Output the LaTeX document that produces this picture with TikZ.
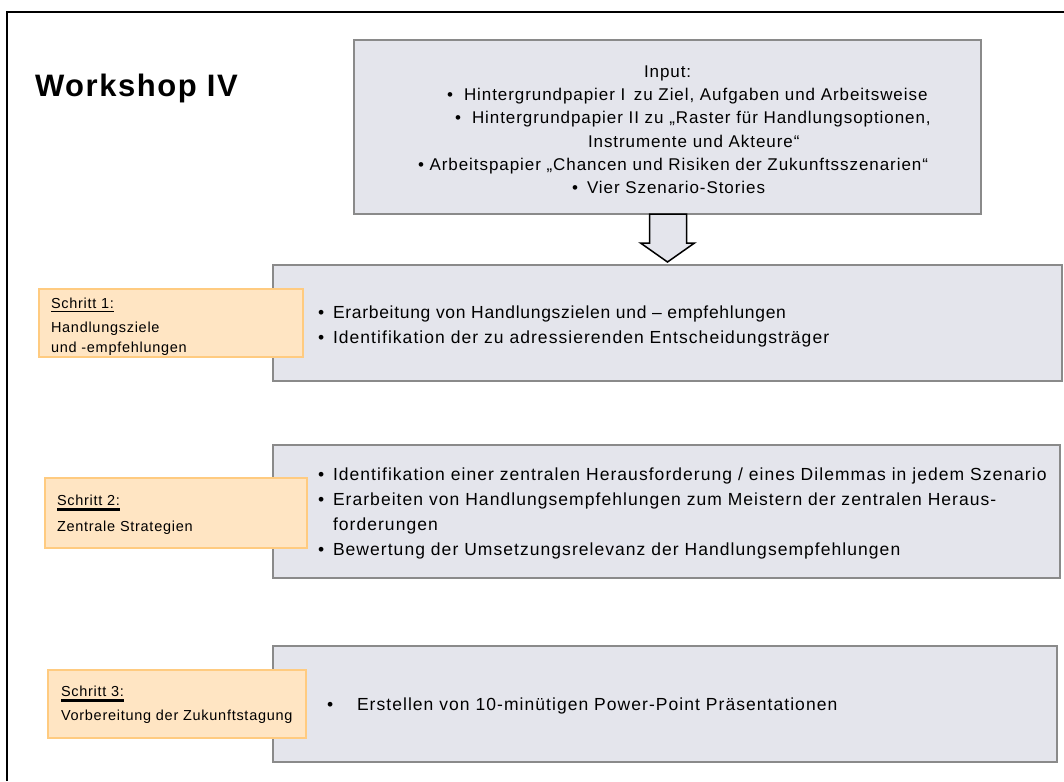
\documentclass[tikz,border=0pt]{standalone}
\usepackage{fontspec}
\setmainfont{Liberation Sans}[LetterSpace=5]
\usetikzlibrary{calc}

\definecolor{panelfill}{HTML}{E4E5EC}
\definecolor{panelline}{HTML}{8A8A8A}
\definecolor{stepfill}{HTML}{FFE5C3}
\definecolor{stepline}{HTML}{FFCB80}

\tikzset{
  panel/.style={draw=panelline, fill=panelfill, line width=2pt, inner sep=0pt, outer sep=0pt, anchor=north west},
  stepbox/.style={draw=stepline, fill=stepfill, line width=1.6pt, inner sep=0pt, outer sep=0pt, anchor=north west},
  intxt/.style={anchor=base west, inner sep=0pt, outer sep=0pt, font=\fontsize{17}{20}\selectfont\addfontfeature{LetterSpace=5.5}},
  txt/.style={anchor=base west, inner sep=0pt, outer sep=0pt, font=\fontsize{17.5}{20}\selectfont\addfontfeature{LetterSpace=6}},
  small/.style={anchor=base west, inner sep=0pt, outer sep=0pt, font=\fontsize{14.5}{17}\selectfont},
  title/.style={anchor=base west, inner sep=0pt, outer sep=0pt, font=\fontsize{31}{36}\selectfont\bfseries},
}

\begin{document}
\begin{tikzpicture}[x=1pt, y=-1pt]
\useasboundingbox (0,0) rectangle (1064,781);

% frame of the slide
\coordinate (fbl) at (7,781);
\coordinate (ftl) at (7,12);
\coordinate (ftr) at (1064,12);
\draw[line width=1.5pt] (fbl) -- (ftl) -- (ftr);

\node[title] (ws) at (35,97) {Workshop IV};

% input panel
\node[panel, minimum width=627, minimum height=174] (inp) at (354,40) {};
\node[intxt] (in0) at (644,78) {Input:};
\node[intxt] (in1b) at (447,101) {•};
\node[intxt] (in1) at (464,101) {Hintergrundpapier I\hspace{0.5em}zu Ziel, Aufgaben und Arbeitsweise};
\node[intxt] (in2b) at (455,124) {•};
\node[intxt] (in2) at (472,124) {Hintergrundpapier II zu „Raster für Handlungsoptionen,};
\node[intxt] (in3) at (588,147) {Instrumente und Akteure“};
\node[intxt] (in4) at (418,170) {• Arbeitspapier „Chancen und Risiken der Zukunftsszenarien“};
\node[intxt] (in5b) at (572,193) {•};
\node[intxt] (in5) at (587,193) {Vier Szenario-Stories};

% step panels
\node[panel, minimum width=789, minimum height=116] (p1) at (273,265) {};
\node[panel, minimum width=787, minimum height=133] (p2) at (273,445) {};
\node[panel, minimum width=784, minimum height=116] (p3) at (273,646) {};

% block arrow from the input panel down to the first step
\coordinate (a0) at ($(inp.south)+(-18,0)$);
\coordinate (a1) at ($(inp.south)+(19,0)$);
\coordinate (a2) at ($(inp.south)+(19,29)$);
\coordinate (a3) at ($(inp.south)+(27,29)$);
\coordinate (a4) at ($(inp.south)+(0,48)$);
\coordinate (a5) at ($(inp.south)+(-27,29)$);
\coordinate (a6) at ($(inp.south)+(-18,29)$);
\draw[line width=1.5pt, fill=panelfill, line join=miter] (a0) -- (a1) -- (a2) -- (a3) -- (a4) -- (a5) -- (a6) -- cycle;

% step 1
\node[txt] (t11b) at (318,318) {•};
\node[txt, font=\fontsize{17.5}{20}\selectfont\addfontfeature{LetterSpace=4}] (t11) at (333,318) {Erarbeitung von Handlungszielen und – empfehlungen};
\node[txt] (t12b) at (318,343) {•};
\node[txt] (t12) at (333,343) {Identifikation der zu adressierenden Entscheidungsträger};

% step 2
\node[txt] (t21b) at (318,480) {•};
\node[txt] (t21) at (333,480) {Identifikation einer zentralen Herausforderung / eines Dilemmas in jedem Szenario};
\node[txt] (t22b) at (318,505) {•};
\node[txt] (t22) at (333,505) {Erarbeiten von Handlungsempfehlungen zum Meistern der zentralen Heraus-};
\node[txt] (t23) at (333,530) {forderungen};
\node[txt] (t24b) at (318,555) {•};
\node[txt] (t24) at (333,555) {Bewertung der Umsetzungsrelevanz der Handlungsempfehlungen};

% step 3
\node[txt] (t31b) at (327,710) {•};
\node[txt] (t31) at (357,710) {Erstellen von 10-minütigen Power-Point Präsentationen};

% step labels
\node[stepbox, minimum width=264, minimum height=68] (s1) at (39,289) {};
\node[small] (s1a) at (51,308) {Schritt 1:};
\draw[line width=0.9pt] ([yshift=-3pt]s1a.base west) -- ([yshift=-3pt]s1a.base east);
\node[small] (s1b) at (51,332) {Handlungsziele};
\node[small] (s1c) at (51,352) {und -empfehlungen};

\node[stepbox, minimum width=262, minimum height=70] (s2) at (45,478) {};
\node[small] (s2a) at (57,505) {Schritt 2:};
\draw[line width=2.6pt] ([yshift=-4.5pt]s2a.base west) -- ([yshift=-4.5pt]s2a.base east);
\node[small] (s2b) at (57,531) {Zentrale Strategien};

\node[stepbox, minimum width=258, minimum height=68] (s3) at (48,670) {};
\node[small] (s3a) at (61,696) {Schritt 3:};
\draw[line width=2.6pt] ([yshift=-4.5pt]s3a.base west) -- ([yshift=-4.5pt]s3a.base east);
\node[small] (s3b) at (61,720) {Vorbereitung der Zukunftstagung};
\end{tikzpicture}
\end{document}
